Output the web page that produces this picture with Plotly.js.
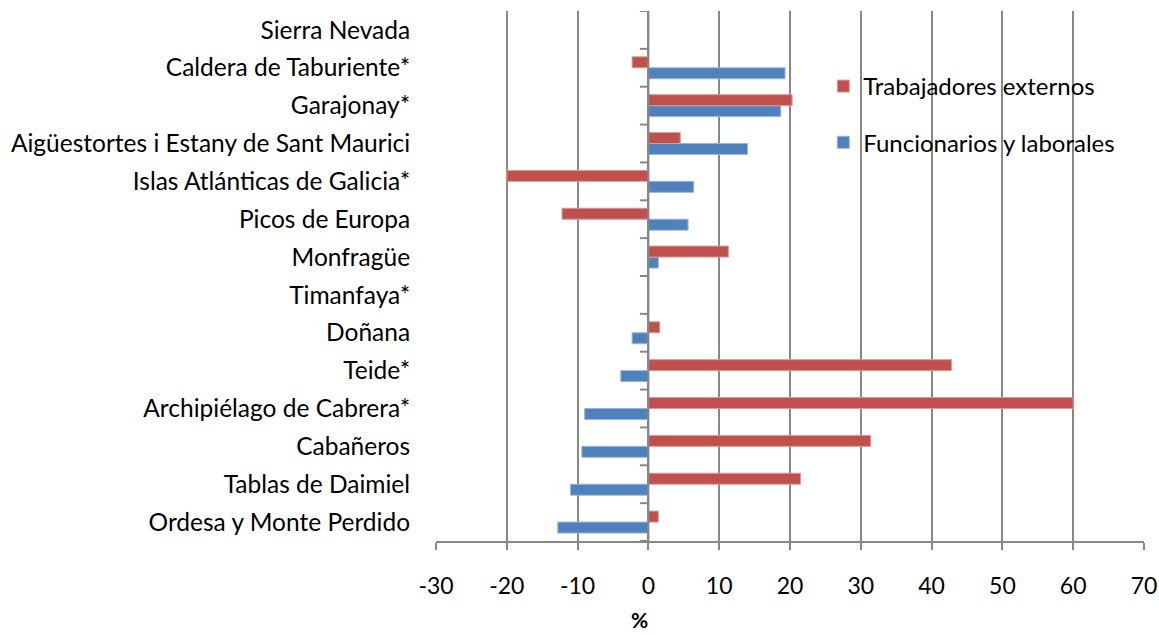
<!DOCTYPE html>
<html><head><meta charset="utf-8">
<script src="https://cdn.plot.ly/plotly-3.0.1.min.js"></script>
<style>html,body{margin:0;padding:0;background:#fff}#chart{width:1159px;height:635px}</style>
</head><body><div id="chart"></div>
<script>
const categories = ["Ordesa y Monte Perdido","Tablas de Daimiel","Cabañeros","Archipiélago de Cabrera*","Teide*","Doñana","Timanfaya*","Monfragüe","Picos de Europa","Islas Atlánticas de Galicia*","Aigüestortes i Estany de Sant Maurici","Garajonay*","Caldera de Taburiente*","Sierra Nevada"];
const funcionarios = [-12.8,-11.0,-9.4,-9.0,-3.9,-2.3,0,1.4,5.6,6.4,14.0,18.7,19.3,0];
const externos = [1.4,21.5,31.4,60.0,42.8,1.6,0,11.3,-12.2,-20.0,4.5,20.3,-2.3,0];
const xTicks = [-30,-20,-10,0,10,20,30,40,50,60,70];

const FONT = "Lato, 'Liberation Sans', sans-serif";
const traces = [
  {type:'bar', orientation:'h', name:'Funcionarios y laborales', y:categories, x:funcionarios,
   marker:{color:'#4F81BD', line:{color:'#9AB5DA', width:1}}, legendrank:2, legendgroup:'b'},
  {type:'bar', orientation:'h', name:'Trabajadores externos', y:categories, x:externos,
   marker:{color:'#C0504D', line:{color:'#DB9A98', width:1}}, legendrank:1, legendgroup:'a'}
];
const shapes = [];
for (let i = 0; i < categories.length + 1; i++) {
  shapes.push({type:'line', xref:'x', yref:'y', x0:-1.2, x1:0, y0:i-0.5, y1:i-0.5, line:{color:'#878787', width:2}, layer:'above'});
}
shapes.push({type:'line', xref:'x', yref:'paper', x0:0, x1:0, y0:0, y1:1, line:{color:'#878787', width:2}, layer:'above'});
const layout = {
  width:1159, height:635,
  margin:{l:436, r:15, t:11, b:94},
  paper_bgcolor:'#fff', plot_bgcolor:'#fff',
  barmode:'group', bargap:0.42, bargroupgap:0,
  font:{family:FONT, size:24, color:'#000'},
  showlegend:true,
  legend:{x:0.547, y:0.9, xanchor:'left', yanchor:'top', traceorder:'grouped', tracegroupgap:22, itemwidth:30,
          font:{family:FONT, size:24, color:'#000'}, bgcolor:'rgba(0,0,0,0)'},
  xaxis:{range:[-30,70], tickvals:xTicks, ticktext:xTicks.map(String), showgrid:true, gridcolor:'#878787', gridwidth:2,
         zeroline:false, showline:true, linecolor:'#878787', linewidth:2, ticks:'outside', ticklen:7, tickcolor:'#878787', tickwidth:2,
         ticklabelstandoff:16, tickfont:{family:FONT, size:23, color:'#000'}, fixedrange:true},
  yaxis:{type:'category', categoryorder:'array', categoryarray:categories, range:[-0.5, categories.length-0.5],
         showgrid:false, zeroline:false, showline:false, ticks:'outside', ticklen:20, tickcolor:'rgba(0,0,0,0)',
         tickfont:{family:FONT, size:24.5, color:'#000'}, fixedrange:true},
  shapes:shapes,
  annotations:[{text:'<b>%</b>', xref:'paper', yref:'paper', x:0.288, y:0, yshift:-78, xanchor:'center', yanchor:'middle', showarrow:false,
                borderpad:0, font:{family:FONT, size:21, color:'#000'}}]
};
Plotly.newPlot('chart', traces, layout, {displayModeBar:false, staticPlot:true});
</script></body></html>
